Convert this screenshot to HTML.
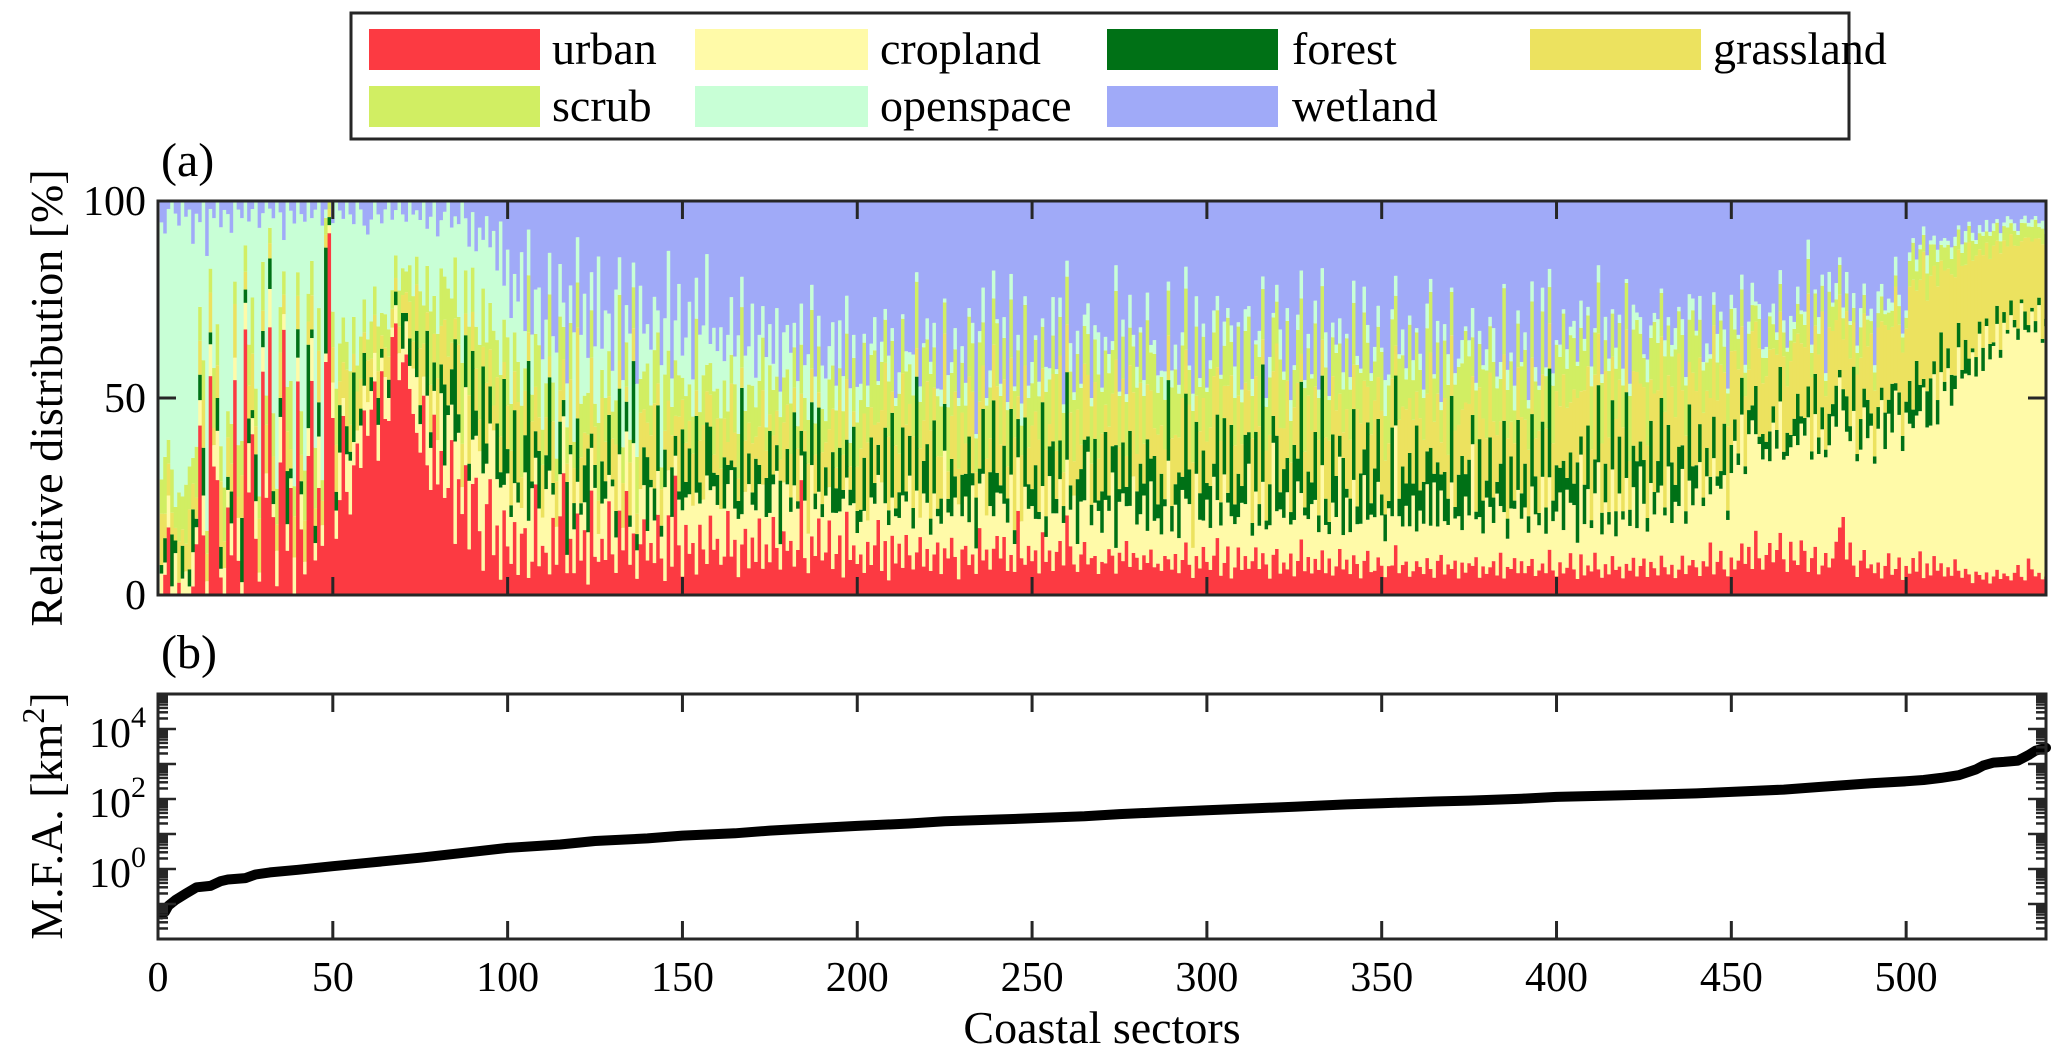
<!DOCTYPE html>
<html><head><meta charset="utf-8"><title>Land cover distribution and M.F.A. across coastal sectors</title>
<style>
html,body{margin:0;padding:0;background:#fff;}
svg{display:block;font-family:"Liberation Serif","Times New Roman",serif;}
</style></head>
<body>
<svg id="chart" width="2067" height="1060" viewBox="0 0 2067 1060" xmlns="http://www.w3.org/2000/svg">
  <rect x="0" y="0" width="2067" height="1060" fill="#fff"/>
  <g id="legend">
    <rect x="351" y="13" width="1498" height="126" fill="#fff" stroke="#262626" stroke-width="3"/>
    <g><rect x="369" y="29" width="171" height="41" fill="#fc3a42"/><text x="552" y="64" font-size="46">urban</text></g>
    <g><rect x="695" y="29" width="173" height="41" fill="#fffaa8"/><text x="880" y="64" font-size="46">cropland</text></g>
    <g><rect x="1107" y="29" width="171" height="41" fill="#007116"/><text x="1292" y="64" font-size="46">forest</text></g>
    <g><rect x="1530" y="29" width="171" height="41" fill="#ece25f"/><text x="1713" y="64" font-size="46">grassland</text></g>
    <g><rect x="369" y="86" width="171" height="41" fill="#d1ee63"/><text x="552" y="121" font-size="46">scrub</text></g>
    <g><rect x="695" y="86" width="173" height="41" fill="#c8ffd6"/><text x="880" y="121" font-size="46">openspace</text></g>
    <g><rect x="1107" y="86" width="171" height="41" fill="#a0aaf8"/><text x="1292" y="121" font-size="46">wetland</text></g>
  </g>
  <text x="161" y="176" font-size="48">(a)</text>
  <text x="161" y="668" font-size="48">(b)</text>
  <g id="barsG"></g>
  <g id="axA"></g>
  <g id="lineG"></g>
  <g id="axB"></g>
  <text transform="translate(62,398) rotate(-90)" text-anchor="middle" font-size="46">Relative distribution [%]</text>
  <text transform="translate(62,816) rotate(-90)" text-anchor="middle" font-size="46">M.F.A. [km<tspan font-size="32" dy="-18">2</tspan><tspan dy="18">]</tspan></text>
  <text x="1102" y="1043" text-anchor="middle" font-size="46">Coastal sectors</text>
</svg>
<script>
const urban=[0,5,17,0,0,3,0,0,0,2,12,40,15,0,55,30,28,4,0,20,10,48,8,0,60,25,40,12,3,55,20,70,18,2,35,68,10,22,0,45,15,5,30,50,8,25,12,55,90,40,12,20,40,22,18,28,35,30,45,38,40,45,30,50,42,38,55,60,48,52,58,45,40,35,30,42,28,20,38,25,30,18,22,35,10,25,15,30,8,20,28,12,5,18,25,8,15,3,20,10,
8,15,5,12,18,3,10,25,6,14,10,4,20,8,15,30,6,12,5,18,9,14,3,22,10,6,16,8,25,12,5,18,10,28,8,15,4,12,20,7,14,6,22,10,3,16,8,30,12,5,18,9,14,4,20,11,7,25,10,15,6,12,22,8,16,4,10,18,7,14,9,20,5,13,8,24,11,6,17,10,15,7,12,28,9,5,14,10,20,8,12,18,6,10,15,4,22,9,13,7,
10,5,15,8,12,20,6,10,4,14,8,12,6,18,10,5,9,15,7,11,6,10,14,5,12,8,16,9,4,11,13,7,10,5,18,8,12,6,10,15,9,14,6,11,5,22,10,7,12,8,10,6,15,8,12,5,9,14,7,20,12,8,5,10,14,6,9,11,4,8,7,12,9,5,10,8,14,6,11,9,5,10,7,12,6,9,4,11,8,6,10,5,8,12,7,4,9,6,11,8,
6,9,12,5,8,10,4,7,11,6,9,5,8,12,6,10,7,4,9,11,5,8,6,10,4,9,12,6,8,5,8,6,10,5,9,4,7,11,6,8,5,9,7,4,8,10,6,5,9,7,4,8,6,10,5,7,9,4,6,8,7,5,9,6,4,8,10,5,7,6,9,4,7,5,8,6,10,4,7,5,6,8,5,10,4,7,6,9,5,8,5,7,9,4,6,8,5,10,6,4,
8,5,7,10,6,4,9,5,7,6,10,6,4,8,5,9,6,7,4,8,6,9,5,7,10,4,8,6,5,9,7,5,8,4,6,10,5,7,9,6,4,8,6,12,5,7,10,6,4,8,6,9,14,8,12,7,16,10,6,11,14,8,12,18,9,6,13,10,7,15,10,6,9,12,5,8,11,7,9,13,18,22,10,14,8,5,9,12,7,10,6,9,4,8,12,5,7,10,4,8,
5,8,6,10,4,7,5,9,6,8,4,7,5,8,6,4,7,5,3,6,5,4,6,3,5,7,4,6,5,4,6,8,5,4,10,7,5,6,4,5];
const cropland=[5,3,8,2,10,0,4,6,2,8,4,6,10,3,8,5,12,2,6,4,8,5,10,3,6,12,4,8,2,6,5,10,3,8,12,4,6,2,10,5,8,3,6,10,4,12,5,2,2,8,6,10,4,8,12,5,3,10,6,8,4,6,8,3,10,5,2,4,6,3,8,5,10,12,6,4,15,8,5,10,12,6,15,8,20,10,5,18,12,8,10,15,20,8,12,25,10,18,6,15,
12,8,18,5,15,10,22,6,12,8,15,20,6,10,8,14,5,18,10,7,12,6,15,9,18,5,10,14,7,20,8,12,5,16,10,22,7,13,9,6,15,8,12,6,20,9,14,5,11,18,7,13,10,16,6,12,20,8,14,9,11,15,7,18,9,13,6,10,22,8,14,9,16,7,12,10,18,6,13,15,8,20,11,6,14,9,17,12,7,10,16,8,13,10,6,18,9,14,11,7,
8,14,6,18,10,12,22,7,15,9,12,6,16,10,20,8,13,5,18,11,9,15,7,12,25,10,6,14,19,8,13,10,17,6,12,20,9,15,7,11,16,8,12,22,6,14,10,18,9,13,7,15,11,6,20,12,8,16,10,14,9,18,6,13,11,22,8,15,12,7,14,10,19,6,12,16,9,13,20,8,11,15,7,18,10,13,6,14,22,9,12,8,16,10,14,7,19,11,6,15,
10,18,8,13,22,9,15,11,7,16,12,20,6,14,10,17,8,13,25,9,15,11,18,7,12,21,10,14,8,16,13,9,19,11,6,15,12,22,8,14,10,17,9,13,20,7,15,11,18,12,8,16,10,24,13,9,15,11,19,7,14,12,18,10,22,8,16,13,9,20,11,15,7,17,12,25,10,14,8,18,13,9,21,11,16,7,14,12,19,10,15,8,18,13,11,22,9,16,12,14,
17,10,20,12,15,9,22,13,18,11,14,25,10,16,12,20,8,18,14,22,11,17,13,24,15,10,19,12,21,16,13,26,11,18,15,22,12,20,14,17,24,13,19,11,28,16,14,22,12,18,30,25,35,23,28,40,24,31,26,29,22,34,27,38,25,30,23,36,28,32,26,40,24,33,29,37,25,31,35,28,40,30,36,27,42,32,29,38,34,45,30,37,43,32,40,35,48,38,34,42,
35,28,40,32,45,30,38,42,36,48,40,50,44,38,55,46,52,48,58,50,60,54,65,58,62,68,55,70,64,72,66,60,75,68,62,70,65,72,60,68];
const forest=[2,6,0,12,3,0,8,0,4,10,2,6,12,0,3,0,8,5,0,3,8,0,0,15,3,6,2,10,0,4,0,8,3,0,5,0,12,2,0,6,3,0,18,2,4,8,0,25,2,0,4,10,0,6,2,15,0,4,8,0,3,0,6,2,0,4,0,3,0,8,2,6,0,10,4,0,14,3,6,0,6,15,2,8,20,4,0,12,3,16,6,0,22,4,8,0,12,3,25,5,
3,15,5,0,10,28,2,6,12,0,8,18,3,0,10,4,20,2,6,14,3,8,24,3,6,0,12,4,16,2,6,14,0,8,3,20,4,0,10,15,2,6,18,3,8,0,14,5,2,22,4,10,0,15,6,0,12,20,3,8,0,16,5,2,12,4,25,0,8,3,14,5,0,10,20,3,6,15,0,8,4,18,2,6,12,0,15,4,22,3,8,0,14,6,16,2,10,4,20,5,
3,12,0,16,5,8,0,14,4,20,2,6,15,3,10,4,24,0,8,14,4,18,2,6,12,3,16,5,0,10,6,20,3,12,4,15,0,8,25,5,2,14,6,18,3,10,0,16,6,4,12,2,20,5,8,15,3,10,4,22,6,0,14,8,16,3,5,18,2,10,15,4,6,24,3,12,5,16,0,8,10,3,20,6,14,4,10,2,18,6,5,15,3,24,8,0,12,6,16,4,
10,3,18,6,14,2,22,5,10,4,16,6,3,15,5,28,2,10,6,18,4,12,8,3,16,6,24,2,10,5,15,4,20,6,3,14,10,5,18,2,8,16,4,12,6,22,3,10,15,5,6,2,18,10,4,14,6,16,3,25,5,10,8,18,2,15,4,12,6,20,3,10,16,5,14,6,2,18,8,4,15,6,3,10,22,5,12,2,16,6,10,4,18,8,3,14,6,24,5,10,
6,16,3,12,5,20,4,10,15,2,8,18,5,10,3,16,6,14,2,22,4,10,18,6,12,3,15,5,8,20,2,10,16,4,14,6,3,18,10,5,8,2,6,4,10,2,4,12,2,6,5,3,10,2,6,4,12,2,6,2,8,4,5,10,2,6,3,5,12,2,4,8,2,10,4,6,2,8,3,10,2,6,10,4,12,2,8,5,10,4,2,6,3,10,4,12,2,6,4,3,
10,4,14,6,2,8,12,3,6,10,2,5,8,3,6,2,9,4,1,5,3,6,2,4,1,5,2,3,1,4,2,3,1,5,2,1,3,2,1,2];
const grassland=[12,6,8,5,3,10,4,7,14,6,5,8,12,6,10,4,8,15,6,9,7,12,5,10,4,8,14,6,12,5,10,4,8,6,12,5,9,4,11,7,6,10,5,8,4,12,6,3,2,8,10,5,8,12,6,4,9,7,5,10,4,8,6,3,7,5,4,3,6,4,5,8,6,10,12,7,4,9,6,14,8,12,10,6,4,15,8,5,12,7,10,6,4,12,8,5,10,7,4,9,
14,8,20,6,12,5,18,10,7,15,9,4,16,12,6,10,5,14,8,20,12,7,4,16,10,6,18,9,5,12,15,6,10,4,14,8,5,18,10,7,12,16,6,10,4,14,9,5,18,8,10,6,14,5,12,18,7,10,4,15,8,12,6,16,10,5,4,14,8,12,6,10,18,7,4,12,8,5,16,10,12,6,14,9,5,16,8,10,4,12,7,14,10,5,12,8,16,6,4,10,
15,10,22,8,14,6,18,12,20,5,16,9,12,20,8,14,6,18,10,15,22,8,14,10,18,6,12,20,9,15,8,14,20,6,18,10,15,8,12,22,10,16,8,14,20,6,18,12,9,15,12,20,8,16,6,14,10,22,8,12,18,9,15,6,20,12,10,16,8,14,6,18,12,20,10,15,8,14,22,9,16,10,12,18,6,20,8,14,10,16,12,8,18,10,15,20,6,14,12,10,
14,20,10,16,8,22,12,15,18,10,12,8,20,14,18,6,16,12,10,22,15,10,18,12,8,20,6,14,16,12,10,18,8,14,20,12,16,10,6,18,14,10,22,12,16,8,18,14,10,20,12,16,10,6,18,14,20,12,16,8,18,10,14,22,12,16,8,18,10,14,20,12,10,16,14,8,18,12,20,10,14,18,12,10,16,20,8,14,12,18,10,16,14,8,20,12,18,10,14,16,
15,20,18,12,22,16,10,24,14,18,20,12,16,24,18,10,22,14,20,16,12,18,24,14,20,16,10,22,18,14,24,12,20,16,22,14,18,10,24,16,14,20,12,18,22,16,24,12,18,20,16,22,14,18,10,20,16,24,12,18,22,14,20,16,24,12,18,22,14,20,16,24,18,12,20,26,14,22,18,16,20,14,24,18,12,22,16,20,14,26,18,22,16,24,20,14,26,18,22,20,
22,28,18,24,30,20,26,22,28,18,24,20,26,22,18,24,20,28,22,26,18,24,20,22,26,18,24,20,22,18,20,22,16,20,24,18,22,16,24,20];
const scrub=[8,14,6,10,5,12,8,15,10,6,12,8,10,5,6,14,10,8,12,6,10,5,12,8,6,10,14,8,5,12,6,4,10,8,12,6,10,14,8,5,10,12,6,8,14,10,5,4,2,8,12,8,10,6,12,8,6,10,8,5,8,6,10,5,8,6,4,5,8,6,5,8,10,6,12,8,10,14,8,10,12,8,14,10,12,6,15,10,12,8,10,14,12,8,10,15,8,12,10,14,
12,8,10,14,6,10,8,12,15,10,8,12,10,6,14,8,10,12,6,10,14,8,12,10,6,14,8,10,12,8,10,14,8,12,6,10,14,8,10,12,8,10,14,6,12,10,8,14,10,6,12,8,10,14,8,12,6,10,14,8,10,12,8,6,14,10,12,8,10,14,8,12,10,6,12,14,8,10,12,8,14,10,6,12,8,10,14,8,12,10,6,12,10,14,8,10,12,6,14,10,
12,16,10,14,18,10,12,8,15,12,10,14,12,16,10,8,14,12,18,10,14,10,16,12,8,14,12,10,16,12,10,14,12,8,16,10,14,12,10,16,12,10,14,16,10,12,8,14,12,10,16,12,10,14,12,8,16,10,14,12,10,16,12,14,10,8,14,12,16,10,12,14,10,16,12,10,14,8,12,16,10,12,14,10,16,12,8,14,10,12,16,10,12,14,8,12,16,10,14,12,
14,10,12,16,10,14,8,12,16,10,12,14,10,8,16,12,10,14,12,10,16,12,14,10,8,14,12,16,10,12,14,10,12,16,10,8,14,12,10,16,12,14,10,12,16,10,14,8,12,14,10,16,12,10,14,12,8,16,10,14,12,10,16,14,10,12,8,14,16,10,12,14,10,16,12,8,14,10,12,16,10,14,12,10,16,12,14,8,10,12,16,10,14,12,10,16,12,8,14,10,
12,14,10,16,12,8,14,10,12,16,10,12,14,8,16,10,12,14,10,12,16,10,14,12,8,14,10,16,12,10,14,12,8,16,10,14,12,10,16,12,8,10,6,9,5,8,10,6,7,9,5,8,10,6,9,7,4,8,6,5,9,6,4,8,6,9,5,4,7,8,5,9,6,8,5,7,4,9,6,5,8,6,5,9,4,6,8,5,7,4,5,4,6,3,5,4,3,5,4,3,
6,8,5,7,4,6,8,5,6,4,5,6,4,7,5,3,6,4,5,3,4,5,3,6,4,5,3,4,5,3,4,3,5,4,3,4,5,3,4,3];
const openspace=[60,55,58,62,70,65,72,68,60,50,55,20,40,60,15,35,30,50,62,45,48,18,55,52,10,30,22,40,60,12,40,5,45,65,25,8,42,35,70,15,45,60,20,10,55,25,62,2,0,20,40,28,22,30,35,20,38,30,18,25,22,18,25,20,25,28,15,10,20,12,12,14,18,10,15,22,8,18,20,22,10,12,18,16,8,20,30,12,14,10,18,22,10,25,12,20,15,30,8,18,
22,12,15,30,10,8,18,10,12,20,15,8,12,28,10,6,12,8,25,10,18,22,10,8,15,30,6,20,10,12,25,8,15,10,28,6,18,22,10,8,15,10,6,28,12,20,8,10,22,6,15,18,10,8,22,12,25,6,14,10,18,6,20,12,8,22,6,15,10,20,8,12,6,18,10,8,16,6,12,10,14,6,12,10,8,15,6,12,8,10,12,8,10,6,12,8,10,14,6,8,
4,2,6,3,8,1,5,2,7,3,2,5,1,6,3,8,2,4,1,5,3,6,2,4,1,7,3,5,2,4,6,2,5,1,3,8,2,4,6,1,3,5,2,7,1,4,6,2,3,5,1,4,2,6,3,8,1,5,2,4,7,2,5,1,3,6,2,4,8,1,3,5,2,6,1,4,2,7,3,5,1,4,6,2,3,5,1,8,2,4,6,2,3,5,1,4,7,2,3,1,
2,5,3,1,6,2,4,8,1,3,5,2,4,1,6,3,2,5,1,4,7,2,3,5,1,4,6,2,3,1,5,2,4,8,1,3,2,6,4,1,3,5,2,1,6,4,2,3,5,1,8,3,2,4,1,6,3,2,5,1,4,2,6,3,1,5,2,4,7,1,3,2,5,1,4,6,2,3,1,5,2,8,3,4,1,5,2,6,3,1,4,2,5,3,1,6,2,4,3,1,
3,1,5,2,4,1,6,3,2,5,1,4,2,6,3,1,5,2,4,1,3,6,2,4,1,5,3,2,6,1,4,2,3,5,1,4,2,6,3,1,5,2,4,1,3,6,2,4,1,3,5,1,4,2,3,6,1,4,2,3,1,5,2,4,3,1,6,2,4,1,3,5,2,1,4,3,2,5,1,4,2,3,6,1,4,2,5,3,1,4,2,6,3,1,4,2,5,3,1,2,
2,1,3,1,2,4,1,2,3,1,2,1,3,2,1,2,3,1,2,1,2,1,3,1,2,1,2,1,3,1,2,1,1,2,1,2,1,1,2,1];
const wetland=[5,8,2,0,3,6,0,4,2,10,3,5,0,12,2,4,0,6,2,3,8,0,2,4,0,5,2,0,6,3,0,2,4,0,3,10,0,2,6,0,3,5,0,4,2,0,6,2,0,5,0,2,4,0,3,5,0,2,6,8,4,0,3,5,2,0,4,2,0,3,5,0,3,2,4,0,6,3,0,8,4,2,0,6,3,5,0,4,8,2,12,5,8,3,10,6,15,4,20,10,
30,15,25,10,35,5,40,20,18,45,28,10,35,40,12,25,50,18,30,8,35,20,45,15,38,10,42,25,30,50,20,12,40,28,35,15,45,20,35,25,40,18,30,45,25,10,50,30,20,42,35,22,48,15,38,30,12,45,28,40,25,50,35,20,45,30,15,42,38,25,48,35,20,40,30,50,25,45,35,28,42,30,48,25,40,35,20,45,30,38,50,35,28,45,30,40,25,48,35,42,
45,30,52,38,28,48,35,20,42,30,50,40,25,45,38,30,15,48,35,28,40,30,50,45,25,38,45,30,50,35,48,25,30,55,35,20,52,40,15,30,45,28,50,20,40,35,55,22,45,38,30,50,28,40,45,20,35,25,48,15,35,50,28,45,30,20,48,35,25,45,30,40,32,15,45,28,50,20,35,40,25,45,20,38,30,50,28,48,18,40,35,42,30,15,38,45,22,40,28,45,
38,25,20,45,30,22,30,42,28,45,25,20,42,35,30,18,45,38,25,20,30,42,25,48,35,30,15,45,28,40,22,45,15,30,48,25,35,28,40,30,42,18,35,40,20,28,45,30,25,35,40,48,22,15,35,30,45,25,40,30,38,45,25,18,40,28,50,30,35,20,45,38,30,28,35,22,48,30,40,35,25,30,45,38,20,42,35,45,25,38,30,48,20,35,45,22,38,15,42,30,
35,25,38,30,28,40,22,35,25,42,30,15,40,30,38,25,35,28,40,20,45,25,30,28,42,35,30,25,30,20,35,28,38,30,25,30,42,22,25,28,20,38,30,35,22,28,25,30,40,20,25,35,20,42,30,22,25,28,35,40,30,25,35,20,30,38,28,35,20,30,25,10,35,22,28,20,45,18,25,20,15,30,20,32,25,40,28,22,30,35,45,25,20,30,28,25,15,25,35,30,
12,8,15,10,6,12,10,8,12,10,8,10,12,8,6,10,8,5,8,10,6,8,5,8,6,5,8,6,4,5,6,8,5,4,6,5,4,6,5,8];

const seriesNames=["urban","cropland","forest","grassland","scrub","openspace","wetland"];
const seriesColors=["#fc3a42","#fffaa8","#007116","#ece25f","#d1ee63","#c8ffd6","#a0aaf8"];
const xTicks=[0,50,100,150,200,250,300,350,400,450,500];
const yTicksA=[0,50,100];
const yTicksBExp=[0,2,4];
const mfaSector=[1,2,3,5,8,11,15,18,20,25,28,32,40,50,60,75,90,100,115,125,140,150,165,175,190,200,215,225,240,250,265,275,290,300,315,325,340,350,365,375,390,400,415,425,440,450,465,475,485,490,500,505,510,515,518,520,522,525,528,532,535,537,540];
const mfaValue=[0.05,0.06,0.09,0.13,0.2,0.3,0.33,0.45,0.5,0.55,0.7,0.8,0.95,1.2,1.5,2.1,3.1,4,5,6.3,7.5,9,10.5,12.5,15,17,20,23,26,28,32,37,43,48,55,60,70,76,85,90,102,115,125,132,145,160,185,220,260,280,320,350,400,480,600,700,900,1100,1150,1250,1800,2400,2900];

const NS="http://www.w3.org/2000/svg";
const L=158,R=2046,TA=201,BA=595,TB=694,BB=939;
const xs=v=>L+(v/540)*(R-L);
const ya=v=>BA-(v/100)*(BA-TA);
const logMin=-2,logMax=5;
const yb=v=>BB-((Math.log10(v)-logMin)/(logMax-logMin))*(BB-TB);
function mk(tag,attrs,parent){const e=document.createElementNS(NS,tag);for(const k in attrs)e.setAttribute(k,attrs[k]);parent.appendChild(e);return e;}

const series=[urban,cropland,forest,grassland,scrub,openspace,wetland];
const barsG=document.getElementById('barsG');
for(let i=0;i<540;i++){
  let tot=0;for(const s of series)tot+=(s[i]||0);
  if(tot<=0)continue;
  let cum=0;
  const x0=xs(i+0.5),x1=Math.min(xs(i+1.5),R);
  for(let k=0;k<series.length;k++){
    const v=(series[k][i]||0)/tot*100;
    if(v<=0){continue;}
    const r=mk('rect',{x:x0.toFixed(2),y:ya(cum+v).toFixed(2),width:(x1-x0+0.6).toFixed(2),height:(ya(cum)-ya(cum+v)).toFixed(2),fill:seriesColors[k]},barsG);
    
    
    cum+=v;
  }
}
const axA=document.getElementById('axA');
const boxA=mk('rect',{x:L,y:TA,width:R-L,height:BA-TA,fill:'none',stroke:'#262626','stroke-width':3},axA);


for(const t of xTicks){
  const x=xs(t);
  mk('line',{x1:x,x2:x,y1:BA,y2:BA-18,stroke:'#262626','stroke-width':3},axA);
  mk('line',{x1:x,x2:x,y1:TA,y2:TA+18,stroke:'#262626','stroke-width':3},axA);
}
for(const t of yTicksA){
  const y=ya(t);
  mk('line',{x1:L,x2:L+18,y1:y,y2:y,stroke:'#262626','stroke-width':3},axA);
  mk('line',{x1:R,x2:R-18,y1:y,y2:y,stroke:'#262626','stroke-width':3},axA);
  const tx=mk('text',{x:146,y:y+14,'text-anchor':'end','font-size':42},axA);
  tx.textContent=String(t);
  
  
}

const lineG=document.getElementById('lineG');
let d='';
for(let i=0;i<mfaSector.length;i++){d+=(i?'L':'M')+xs(mfaSector[i]).toFixed(1)+','+yb(mfaValue[i]).toFixed(1);}
const pth=mk('path',{d:d,fill:'none',stroke:'#000','stroke-width':10,'stroke-linejoin':'round','stroke-linecap':'round'},lineG);



const axB=document.getElementById('axB');
const boxB=mk('rect',{x:L,y:TB,width:R-L,height:BB-TB,fill:'none',stroke:'#262626','stroke-width':3},axB);


for(const t of xTicks){
  const x=xs(t);
  mk('line',{x1:x,x2:x,y1:BB,y2:BB-18,stroke:'#262626','stroke-width':3},axB);
  mk('line',{x1:x,x2:x,y1:TB,y2:TB+18,stroke:'#262626','stroke-width':3},axB);
  const tx=mk('text',{x:x,y:991,'text-anchor':'middle','font-size':42},axB);
  tx.textContent=String(t);
  
  
}
for(let dd=logMin;dd<logMax;dd++){
  for(let k=1;k<=9;k++){
    const v=k*Math.pow(10,dd);
    const y=yb(v);
    const len=(k===1)?18:10;
    mk('line',{x1:L,x2:L+len,y1:y,y2:y,stroke:'#262626','stroke-width':2.5},axB);
    mk('line',{x1:R,x2:R-len,y1:y,y2:y,stroke:'#262626','stroke-width':2.5},axB);
  }
}
for(const e of yTicksBExp){
  const y=yb(Math.pow(10,e));
  const tx=mk('text',{x:146,y:y+18,'text-anchor':'end','font-size':42},axB);
  
  
  const t1=mk('tspan',{},tx);t1.textContent='10';
  const t2=mk('tspan',{'font-size':30,dy:-20},tx);t2.textContent=String(e);
}
</script>
</body></html>
